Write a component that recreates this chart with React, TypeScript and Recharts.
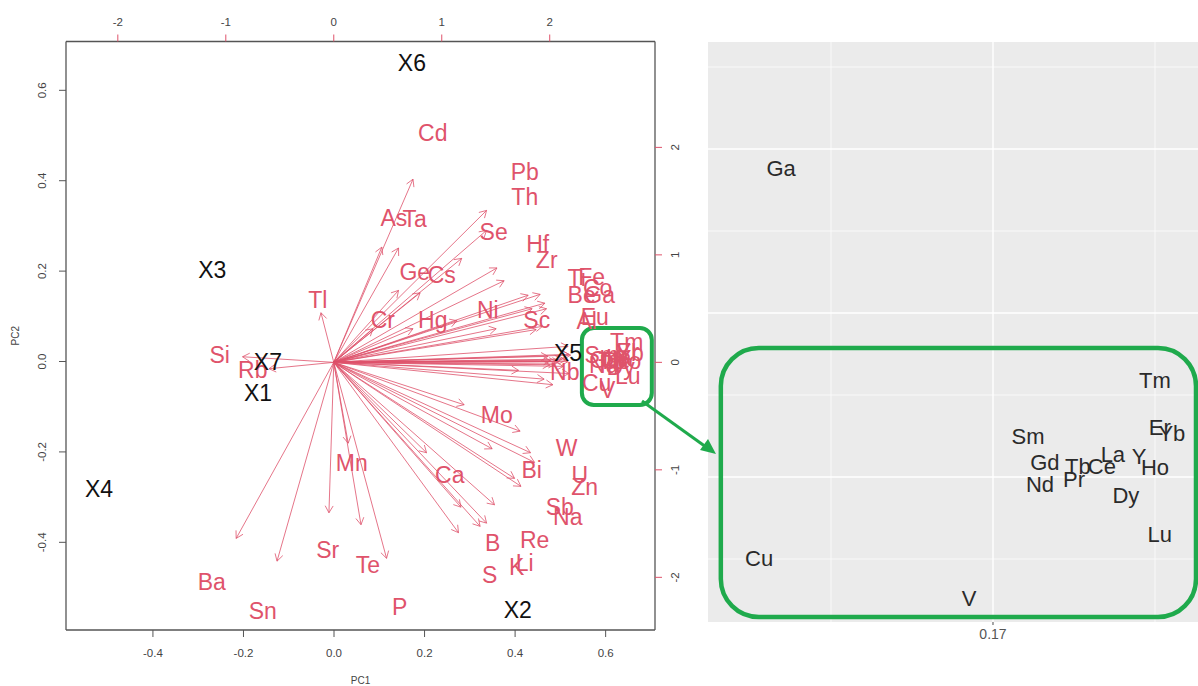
import {
  ScatterChart, Scatter, XAxis, YAxis, ReferenceLine, ReferenceArea, CartesianGrid, Label,
} from 'recharts'

// ── Data ────────────────────────────────────────────────────────────────────

// sample scores (bottom / left axes)
const OBS_NAMES = ['X1', 'X2', 'X3', 'X4', 'X5', 'X6', 'X7']
const OBS_PC1   = [-0.168, 0.406, -0.269, -0.519, 0.517, 0.172, -0.146]
const OBS_PC2   = [-0.070, -0.550, 0.202, -0.282, 0.019, 0.660, -0.001]

// variable loadings (top / right axes)
const VAR_NAMES = [
  'Cd', 'Pb', 'Th', 'As', 'Ta', 'Se', 'Hf', 'Zr', 'Ge', 'Cs',
  'Ti', 'Fe', 'Co', 'Be', 'Ga', 'Eu', 'Al', 'Ni', 'Sc', 'Cr',
  'Hg', 'Tl', 'Si', 'Rb', 'Nb', 'Cu', 'V', 'Tm', 'Sm', 'Er',
  'Yb', 'Gd', 'Tb', 'Ce', 'La', 'Y', 'Ho', 'Nd', 'Pr', 'Dy',
  'Lu', 'Mo', 'W', 'Bi', 'U', 'Zn', 'Mn', 'Ca', 'Sb', 'Na',
  'Re', 'B', 'K', 'Li', 'S', 'Sr', 'Te', 'P', 'Ba', 'Sn',
]
const VAR_PC1 = [
  0.917, 1.769, 1.769, 0.556, 0.750, 1.481, 1.889, 1.972, 0.750, 1.000,
  2.250, 2.389, 2.444, 2.296, 2.463, 2.417, 2.343, 1.426, 1.880, 0.454,
  0.917, -0.148, -1.056, -0.750, 2.139, 2.435, 2.537, 2.713, 2.481, 2.722,
  2.741, 2.509, 2.574, 2.611, 2.639, 2.685, 2.713, 2.500, 2.565, 2.657,
  2.722, 1.509, 2.157, 1.833, 2.278, 2.324, 0.167, 1.074, 2.093, 2.167,
  1.861, 1.472, 1.694, 1.769, 1.444, -0.056, 0.315, 0.611, -1.130, -0.657,
]
const VAR_PC2 = [
  2.130, 1.767, 1.535, 1.340, 1.330, 1.209, 1.098, 0.949, 0.837, 0.809,
  0.781, 0.791, 0.688, 0.623, 0.623, 0.419, 0.381, 0.484, 0.391, 0.391,
  0.391, 0.577, 0.065, -0.074, -0.093, -0.195, -0.260, 0.186, 0.070, 0.093,
  0.084, 0.019, 0.009, 0.009, 0.037, 0.028, 0.009, -0.028, -0.019, -0.047,
  -0.130, -0.493, -0.800, -1.005, -1.051, -1.163, -0.940, -1.051, -1.349, -1.442,
  -1.656, -1.684, -1.907, -1.870, -1.981, -1.749, -1.888, -2.279, -2.047, -2.312,
]

// zoomed panel
const ZOOM_NAMES = ['Ga', 'Tm', 'Sm', 'Er', 'Yb', 'Gd', 'Tb', 'Ce', 'La', 'Y', 'Ho', 'Nd', 'Pr', 'Dy', 'Lu', 'Cu', 'V']
const ZOOM_X = [
  0.16346, 0.17500, 0.17108, 0.17515, 0.17552, 0.17160, 0.17262, 0.17336, 0.17370,
  0.17451, 0.17500, 0.17145, 0.17250, 0.17410, 0.17515, 0.16278, 0.16926,
]
const ZOOM_Y = [
  0.01884, 0.00591, 0.00244, 0.00299, 0.00268, 0.00091, 0.00067, 0.00061, 0.00140,
  0.00122, 0.00055, -0.00043, -0.00018, -0.00110, -0.00348, -0.00494, -0.00738,
]

const PC_TICKS   = [-0.4, -0.2, 0, 0.2, 0.4, 0.6]
const LOAD_TICKS = [-2, -1, 0, 1, 2]
const ZOOM_TICKS = [0.17]
const ZOOM_MAJOR_Y = [0, 0.01, 0.02]
const ZOOM_MINOR_Y = [-0.005, 0.005, 0.015, 0.025]
const ZOOM_MINOR_X = [0.165, 0.175]

// R biplot draws arrows to 0.8 of the label position
const ARROW_SCALE = 0.8

// ── Style ───────────────────────────────────────────────────────────────────

const FONT  = '"Liberation Sans", Arial, Helvetica, sans-serif'
const RED   = '#DF536B'
const GREEN = '#1FAA4C'
const FRAME = '#555'
const TICK_TEXT = '#444'

const obsData  = OBS_NAMES.map((name, i) => ({ name, x: OBS_PC1[i], y: OBS_PC2[i] }))
const varData  = VAR_NAMES.map((name, i) => ({ name, x: VAR_PC1[i], y: VAR_PC2[i] }))
const zoomData = ZOOM_NAMES.map((name, i) => ({ name, x: ZOOM_X[i], y: ZOOM_Y[i] }))

// ── Shapes ──────────────────────────────────────────────────────────────────

const makeLabel = (fill: string, size: number) => (p: any) => (
  <text
    x={p.cx} y={p.cy} textAnchor="middle" dominantBaseline="central"
    fontSize={size} fill={fill} fontFamily={FONT}
  >
    {p.payload.name}
  </text>
)
const ObsLabel  = makeLabel('#111', 23)
const VarLabel  = makeLabel(RED, 23)
const ZoomLabel = makeLabel('#2a2a2a', 22)

const ArrowShape = (p: any) => {
  const { x1, y1, x2, y2 } = p
  const ang = Math.atan2(y2 - y1, x2 - x1)
  const len = 8
  const a = Math.PI / 6
  const hx1 = x2 - len * Math.cos(ang - a)
  const hy1 = y2 - len * Math.sin(ang - a)
  const hx2 = x2 - len * Math.cos(ang + a)
  const hy2 = y2 - len * Math.sin(ang + a)
  return (
    <g stroke={RED} strokeOpacity={0.8} strokeWidth={1} fill="none">
      <line x1={x1} y1={y1} x2={x2} y2={y2} />
      <polyline points={`${hx1},${hy1} ${x2},${y2} ${hx2},${hy2}`} />
    </g>
  )
}

const roundBox = (r: number, w: number) => (p: any) => (
  <rect
    x={p.x} y={p.y} width={p.width} height={p.height} rx={r} ry={r}
    fill="none" stroke={GREEN} strokeWidth={w}
  />
)

// ── Ticks ───────────────────────────────────────────────────────────────────

const BottomTick = ({ x, y, payload }: any) => (
  <text x={x} y={y + 16} textAnchor="middle" dominantBaseline="central" fontSize={11.5} fill={TICK_TEXT} fontFamily={FONT}>
    {Number(payload.value).toFixed(1)}
  </text>
)
const TopTick = ({ x, y, payload }: any) => (
  <text x={x} y={y - 13} textAnchor="middle" dominantBaseline="central" fontSize={11.5} fill={TICK_TEXT} fontFamily={FONT}>
    {String(payload.value)}
  </text>
)
const LeftTick = ({ x, y, payload }: any) => (
  <text
    x={x - 17} y={y} textAnchor="middle" dominantBaseline="central" fontSize={11.5} fill={TICK_TEXT}
    fontFamily={FONT} transform={`rotate(-90 ${x - 17} ${y})`}
  >
    {Number(payload.value).toFixed(1)}
  </text>
)
const RightTick = ({ x, y, payload }: any) => (
  <text
    x={x + 13} y={y} textAnchor="middle" dominantBaseline="central" fontSize={11.5} fill={TICK_TEXT}
    fontFamily={FONT} transform={`rotate(-90 ${x + 13} ${y})`}
  >
    {String(payload.value)}
  </text>
)
const ZoomTick = ({ x, y, payload }: any) => (
  <text x={x} y={y + 9} textAnchor="middle" dominantBaseline="central" fontSize={14} fill="#555" fontFamily={FONT}>
    {String(payload.value)}
  </text>
)

// ── Component ───────────────────────────────────────────────────────────────

export default function App() {
  return (
    <div style={{ position: 'absolute', left: 0, top: 0, width: 1198, height: 686, background: '#fff', overflow: 'hidden' }}>
      {/* biplot */}
      <div style={{ position: 'absolute', left: 0, top: 0 }}>
        <ScatterChart width={700} height={686} margin={{ top: 0, right: 0, bottom: 0, left: 0 }}>
          <XAxis
            xAxisId="pc" type="number" dataKey="x" orientation="bottom" height={56}
            domain={[-0.592, 0.709]} allowDataOverflow ticks={PC_TICKS} interval={0}
            axisLine={{ stroke: FRAME, strokeWidth: 1.3 }} tickLine={{ stroke: FRAME }}
            tickSize={7} tickMargin={0} tick={<BottomTick />}
          >
            <Label
              content={(p: any) => (
                <text x={p.viewBox.x + p.viewBox.width / 2} y={p.viewBox.y + 50} textAnchor="middle"
                  dominantBaseline="central" fontSize={10} fill={TICK_TEXT} fontFamily={FONT}>PC1</text>
              )}
            />
          </XAxis>
          <XAxis
            xAxisId="load" type="number" dataKey="x" orientation="top" height={41.5}
            domain={[-2.48, 2.975]} allowDataOverflow ticks={LOAD_TICKS} interval={0}
            axisLine={{ stroke: FRAME, strokeWidth: 1.3 }} tickLine={{ stroke: RED }}
            tickSize={7} tickMargin={0} tick={<TopTick />}
          />
          <YAxis
            yAxisId="pc" type="number" dataKey="y" orientation="left" width={66}
            domain={[-0.594, 0.708]} allowDataOverflow ticks={PC_TICKS} interval={0}
            axisLine={{ stroke: FRAME, strokeWidth: 1.3 }} tickLine={{ stroke: FRAME }}
            tickSize={7} tickMargin={0} tick={<LeftTick />}
          >
            <Label
              content={(p: any) => {
                const cx = p.viewBox.x + 15
                const cy = p.viewBox.y + p.viewBox.height / 2
                return (
                  <text x={cx} y={cy} textAnchor="middle" dominantBaseline="central" fontSize={10}
                    fill={TICK_TEXT} fontFamily={FONT} transform={`rotate(-90 ${cx} ${cy})`}>PC2</text>
                )
              }}
            />
          </YAxis>
          <YAxis
            yAxisId="load" type="number" dataKey="y" orientation="right" width={45}
            domain={[-2.49, 2.985]} allowDataOverflow ticks={LOAD_TICKS} interval={0}
            axisLine={{ stroke: FRAME, strokeWidth: 1.3 }} tickLine={{ stroke: RED }}
            tickSize={7} tickMargin={0} tick={<RightTick />}
          />

          {VAR_NAMES.map((name, i) => (
            <ReferenceLine
              key={name} xAxisId="load" yAxisId="load" ifOverflow="visible"
              segment={[{ x: 0, y: 0 }, { x: VAR_PC1[i] * ARROW_SCALE, y: VAR_PC2[i] * ARROW_SCALE }]}
              shape={ArrowShape}
            />
          ))}

          <Scatter xAxisId="load" yAxisId="load" data={varData} shape={VarLabel} isAnimationActive={false} />
          <Scatter xAxisId="pc" yAxisId="pc" data={obsData} shape={ObsLabel} isAnimationActive={false} />

          <ReferenceArea
            xAxisId="pc" yAxisId="pc" x1={0.5475} x2={0.702} y1={-0.0962} y2={0.0741}
            ifOverflow="visible" shape={roundBox(12, 4)}
          />
        </ScatterChart>
      </div>

      {/* zoomed panel */}
      <div style={{ position: 'absolute', left: 708, top: 0 }}>
        <ScatterChart width={490} height={686} margin={{ top: 42, right: 0, bottom: 0, left: 0 }}>
          <CartesianGrid
            fill="#EBEBEB" stroke="#fff" strokeWidth={0.7}
            horizontalValues={ZOOM_MINOR_Y} verticalValues={ZOOM_MINOR_X}
          />
          <CartesianGrid
            stroke="#fff" strokeWidth={1.4}
            horizontalValues={ZOOM_MAJOR_Y} verticalValues={ZOOM_TICKS}
          />
          <XAxis
            type="number" dataKey="x" height={64} domain={[0.161204, 0.176327]} allowDataOverflow
            ticks={ZOOM_TICKS} interval={0} axisLine={false} tickLine={{ stroke: '#4d4d4d' }}
            tickSize={3} tickMargin={0} tick={<ZoomTick />}
          />
          <YAxis type="number" dataKey="y" domain={[-0.008841, 0.026524]} allowDataOverflow hide />
          <Scatter data={zoomData} shape={ZoomLabel} isAnimationActive={false} />
          <ReferenceArea
            x1={0.16160} x2={0.176265} y1={-0.008537} y2={0.007866}
            ifOverflow="visible" shape={roundBox(38, 4.5)}
          />
        </ScatterChart>
      </div>

      {/* connector arrow between the two panels */}
      <svg width={1198} height={686} style={{ position: 'absolute', left: 0, top: 0, pointerEvents: 'none' }}>
        <line x1={642} y1={401} x2={706} y2={447} stroke={GREEN} strokeWidth={3} />
        <polygon points="716,454 700,450 708,439" fill={GREEN} />
      </svg>
    </div>
  )
}
